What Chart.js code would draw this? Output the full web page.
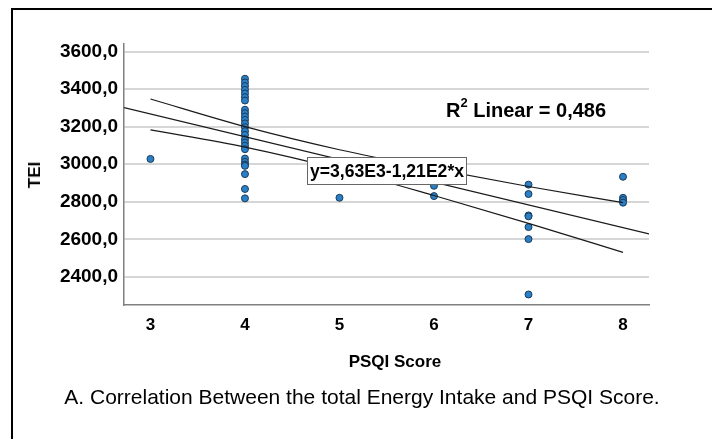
<!DOCTYPE html>
<html>
<head>
<meta charset="utf-8">
<script src="https://cdn.jsdelivr.net/npm/chart.js@4/dist/chart.umd.min.js"></script>
<style>
  body { margin: 0; background: #fff; width: 712px; height: 439px; overflow: hidden; position: relative;
         font-family: "Liberation Sans", Arial, sans-serif; }
  #frame { position: absolute; left: 11px; top: 8px; width: 800px; height: 600px; border: 2px solid #000; box-sizing: border-box; }
  #chart { position: absolute; left: 0; top: 0; }
  .txt { position: absolute; color: #000; white-space: nowrap; }
  #eq { left: 307px; top: 157px; width: 160px; height: 28px; box-sizing: border-box; border: 1px solid #666;
        background: #fff; font-weight: bold; font-size: 17.6px; line-height: 26px; text-align: center; }
  #r2 { left: 446px; top: 97px; font-weight: bold; font-size: 20px; }
  #r2 sup { font-size: 13px; position: relative; top: -2px; }
  #xtitle { left: 0; width: 790px; top: 352px; text-align: center; font-weight: bold; font-size: 17px; }
  #ytitle { left: 35px; top: 175px; transform: translate(-50%, -50%) rotate(-90deg); font-weight: bold; font-size: 17px; }
  #caption { left: 0; width: 724px; top: 385px; text-align: center; font-size: 21px; }
</style>
</head>
<body>
<div id="frame"></div>
<canvas id="chart" width="712" height="439"></canvas>
<div class="txt" id="r2">R<sup>2</sup> Linear = 0,486</div>
<div class="txt" id="eq">y=3,63E3-1,21E2*x</div>
<div class="txt" id="xtitle">PSQI Score</div>
<div class="txt" id="ytitle">TEI</div>
<div class="txt" id="caption">A. Correlation Between the total Energy Intake and PSQI Score.</div>
<script>
// ---- data ----
const psqi = [
    3,
    4, 4, 4, 4, 4, 4, 4, 4, 4, 4, 4, 4, 4, 4, 4, 4, 4, 4, 4, 4, 4, 4, 4, 4, 4, 4,
    5,
    6, 6,
    7, 7, 7, 7, 7, 7, 7,
    8, 8, 8, 8
];
const tei = [
    3028,
    3455, 3435, 3416, 3396, 3377, 3357, 3339, 3290, 3272, 3254, 3236, 3217, 3197,
    3176, 3156, 3133, 3115, 3098, 3080, 3030, 3012, 2998, 2991, 2947, 2868, 2818,
    2821,
    2885, 2830,
    2891, 2841, 2727, 2722, 2665, 2601, 2306,
    2933, 2821, 2809, 2795
];

// fit line y = 3,63E3 - 1,21E2*x, end points at the axis limits
const fitX = [2.72, 8.275];
const fitY = [3301, 2629];

// 95% confidence band of the mean, read at each score
const ciX = [3, 4, 5, 6, 7, 8];
const ciUpper = [3347, 3200, 3077, 2975, 2881, 2795];
const ciLower = [3183, 3091, 2973, 2833, 2685, 2530];

const xTicks = [3, 4, 5, 6, 7, 8];
const yTicks = [2400, 2600, 2800, 3000, 3200, 3400, 3600];

const toXY = (xs, ys) => xs.map((x, i) => ({ x: x, y: ys[i] }));
const fontFamily = '"Liberation Sans", Arial, sans-serif';

const lineStyle = {
    type: 'line',
    borderColor: '#1a1a1a',
    borderWidth: 1.2,
    pointRadius: 0,
    fill: false,
    tension: 0
};

new Chart(document.getElementById('chart'), {
    type: 'scatter',
    data: {
        datasets: [
            Object.assign({ data: toXY(ciX, ciUpper), cubicInterpolationMode: 'monotone' }, lineStyle),
            Object.assign({ data: toXY(ciX, ciLower), cubicInterpolationMode: 'monotone' }, lineStyle),
            Object.assign({ data: toXY(fitX, fitY) }, lineStyle),
            {
                data: toXY(psqi, tei),
                pointRadius: 3.5,
                pointBorderWidth: 1,
                pointBackgroundColor: '#2a80c6',
                pointBorderColor: '#1b3a5a'
            }
        ]
    },
    options: {
        responsive: false,
        animation: false,
        layout: { padding: { left: 0, top: 44, right: 63, bottom: 94 } },
        plugins: { legend: { display: false }, tooltip: { enabled: false } },
        scales: {
            x: {
                type: 'linear',
                min: 2.72,
                max: 8.275,
                afterFit: s => { s.height = 40; },
                afterBuildTicks: s => { s.ticks = xTicks.map(v => ({ value: v })); },
                grid: { display: false, drawTicks: false },
                border: { display: true, color: '#808080', width: 1.5 },
                ticks: { color: '#000', font: { family: fontFamily, size: 17, weight: 'bold' },
                         padding: 10, maxRotation: 0, callback: v => String(v) }
            },
            y: {
                min: 2250,
                max: 3640,
                afterFit: s => { s.width = 124; },
                afterBuildTicks: s => { s.ticks = yTicks.map(v => ({ value: v })); },
                grid: { color: '#d6d6d6', lineWidth: 2, drawTicks: false },
                border: { display: true, color: '#808080', width: 1.5 },
                ticks: { color: '#000', font: { family: fontFamily, size: 19, weight: 'bold' },
                         padding: 6, callback: v => v.toFixed(1).replace('.', ',') }
            }
        }
    }
});
</script>
</body>
</html>
